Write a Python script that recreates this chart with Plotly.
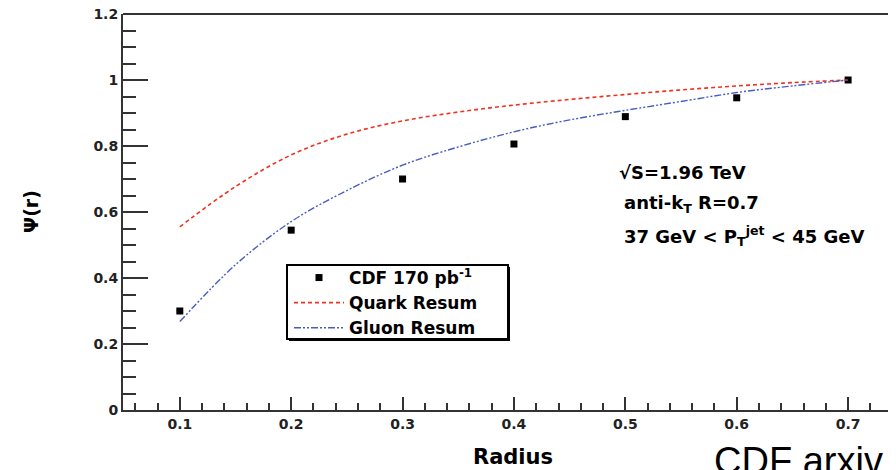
import plotly.graph_objects as go

# ---- data ----
radius_pts = [0.1, 0.2, 0.3, 0.4, 0.5, 0.6, 0.7]
cdf_psi = [0.30, 0.545, 0.70, 0.806, 0.889, 0.946, 1.0]

curve_r = [0.1, 0.15, 0.2, 0.25, 0.3, 0.35, 0.4, 0.45, 0.5, 0.55, 0.6, 0.65, 0.7]
quark_psi = [0.555, 0.677, 0.773, 0.836, 0.876, 0.903, 0.924, 0.941, 0.956, 0.970, 0.982, 0.992, 1.0]
gluon_psi = [0.268, 0.44, 0.571, 0.665, 0.742, 0.797, 0.843, 0.879, 0.908, 0.935, 0.962, 0.982, 1.0]

x_ticks = [0.1, 0.2, 0.3, 0.4, 0.5, 0.6, 0.7]
y_ticks = [0, 0.2, 0.4, 0.6, 0.8, 1.0, 1.2]
y_ticktext = ["0", "0.2", "0.4", "0.6", "0.8", "1", "1.2"]

# The page body has an 8px margin, so figure pixel = screen pixel - 8.
OFF = 8
W, H = 896 - OFF, 470 - OFF
L, T = 123 - OFF, 14 - OFF
R = 0
B = H - (410 - OFF)
PW, PH = W - L - R, H - T - B


def px(sx):
    return (sx - OFF - L) / PW


def py(sy):
    return (H - B - (sy - OFF)) / PH


BOLD = "DejaVu Sans"
AX = "#333333"

fig = go.Figure()
fig.add_trace(go.Scatter(
    x=radius_pts, y=cdf_psi, mode="markers", name="CDF 170 pb<sup>-1</sup>",
    marker=dict(symbol="square", size=7, color="black")))
fig.add_trace(go.Scatter(
    x=curve_r, y=quark_psi, mode="lines", name="Quark Resum",
    line=dict(color="#ee3322", width=1.6, dash="4px,3px", shape="spline")))
fig.add_trace(go.Scatter(
    x=curve_r, y=gluon_psi, mode="lines", name="Gluon Resum",
    line=dict(color="#4a5cc0", width=1.4, dash="7px,2px,2px,2px,2px,2px", shape="spline")))

txtfont = dict(family=BOLD, size=18, color="black", weight="bold")
annotations = [
    dict(text="√S=1.96 TeV", x=px(617), y=py(172), xanchor="left", yanchor="middle",
         font=txtfont),
    dict(text="anti-k<sub>T</sub> R=0.7", x=px(622), y=py(204), xanchor="left", yanchor="middle",
         font=txtfont),
    dict(text="37 GeV &lt; P<sub>T</sub><sup>jet</sup> &lt; 45 GeV", x=px(622), y=py(236),
         xanchor="left", yanchor="middle", font=txtfont),
    dict(text="Radius", x=px(513), y=py(457), xanchor="center", yanchor="middle",
         font=dict(family=BOLD, size=21, color="black", weight="bold")),
    dict(text="Ψ(r)", x=px(31), y=py(212), xanchor="center", yanchor="middle", textangle=-90,
         font=dict(family=BOLD, size=19, color="black", weight="bold")),
    dict(text="CDF arxiv", x=px(712), y=py(438), xanchor="left", yanchor="top",
         font=dict(family="Liberation Sans", size=38, color="black")),
]
for a in annotations:
    a.update(xref="paper", yref="paper", showarrow=False)

shapes = [
    # top frame line
    dict(type="line", xref="paper", yref="paper", layer="above",
         x0=0, x1=1, y0=1, y1=1, line=dict(color=AX, width=2)),
    # legend frame with ROOT-style shadow
    dict(type="rect", xref="paper", yref="paper", layer="above",
         x0=px(289), x1=px(510), y0=py(267), y1=py(341),
         fillcolor="black", line=dict(width=0)),
    dict(type="rect", xref="paper", yref="paper", layer="above",
         x0=px(287), x1=px(508), y0=py(265), y1=py(339),
         fillcolor="white", line=dict(color="black", width=2)),
]

fig.update_layout(
    width=W, height=H,
    margin=dict(l=L, r=R, t=T, b=B),
    paper_bgcolor="white", plot_bgcolor="white",
    showlegend=True,
    legend=dict(x=px(289), y=py(260), xanchor="left", yanchor="top",
                bgcolor="rgba(0,0,0,0)", borderwidth=0,
                font=dict(family=BOLD, size=17, color="black", weight="bold"),
                itemwidth=50),
    annotations=annotations,
    shapes=shapes,
    xaxis=dict(
        range=[0.049, 0.743], tickvals=x_ticks, ticktext=[str(v) for v in x_ticks],
        ticks="inside", ticklen=13, tickwidth=2, tickcolor=AX,
        showline=True, linewidth=2, linecolor=AX, mirror=False,
        showgrid=False, zeroline=False, automargin=False,
        minor=dict(dtick=0.02, tick0=0, ticks="inside", ticklen=7, tickwidth=2, tickcolor=AX),
        tickfont=dict(family=BOLD, size=14, color="#222222", weight="bold"),
        ticklabeloverflow="allow",
    ),
    yaxis=dict(
        range=[0, 1.2], tickvals=y_ticks, ticktext=y_ticktext,
        ticks="inside", ticklen=25, tickwidth=2, tickcolor=AX,
        showline=True, linewidth=2, linecolor=AX, mirror=False,
        showgrid=False, zeroline=False, automargin=False,
        minor=dict(dtick=0.05, tick0=0, ticks="inside", ticklen=13, tickwidth=2, tickcolor=AX),
        tickfont=dict(family=BOLD, size=14, color="#222222", weight="bold"),
        ticklabeloverflow="allow",
    ),
)

fig.write_html("out.html")
